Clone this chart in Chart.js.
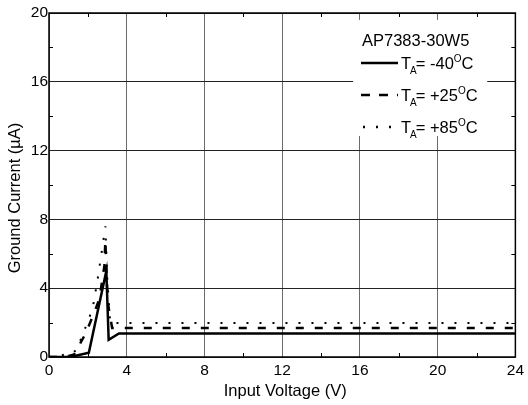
<!DOCTYPE html>
<html>
<head>
<meta charset="utf-8">
<script src="https://cdn.jsdelivr.net/npm/chart.js@4/dist/chart.umd.min.js"></script>
<style>
  html, body { margin: 0; padding: 0; background: #fff; overflow: hidden; }
  canvas { display: block; }
</style>
</head>
<body>
<canvas id="groundCurrent" width="528" height="405"></canvas>
<script>
// valores (tensão em V, corrente em uA)
const voltsMinus40 = [0, 1.1, 2.05, 2.95, 3.07, 3.6, 24];
const currMinus40  = [0, 0, 0.25, 5.0, 1.0, 1.37, 1.37];

const voltsPlus25 = [0, 0.8, 1.3, 1.9, 2.3, 2.6, 2.85, 2.9, 2.97, 3.05, 3.25, 24];
const currPlus25  = [0, 0, 0.15, 1.4, 2.5, 3.4, 5.3, 6.8, 4.5, 3.0, 1.68, 1.68];

const voltsPlus85 = [0, 0.5, 1.2, 1.45, 1.75, 2.0, 2.25, 2.5, 2.75, 2.9, 3.0, 3.15, 24];
const currPlus85  = [0, 0.08, 0.2, 0.47, 1.37, 2.05, 2.85, 4.5, 6.4, 7.6, 4.5, 1.97, 1.97];

const xTicks = [0, 4, 8, 12, 16, 20, 24];
const yTicks = [0, 4, 8, 12, 16, 20];

const seriesNames = ['-40', '+25', '+85'];
const partName = 'AP7383-30W5';

function toPoints(xs, ys) {
  return xs.map((v, i) => ({ x: v, y: ys[i] }));
}

const FONT = 'Liberation Sans, Arial, sans-serif';

// moldura, grade menor, títulos e legenda desenhados à mão
const extras = {
  id: 'extras',
  afterDraw(chart) {
    const ctx = chart.ctx;
    const a = chart.chartArea;
    const xs = chart.scales.x, ys = chart.scales.y;
    ctx.save();

    // marcas menores para dentro
    ctx.strokeStyle = '#000';
    ctx.lineWidth = 1;
    for (let v = 2; v < 24; v += 4) {
      const px = Math.round(xs.getPixelForValue(v)) + 0.5;
      ctx.beginPath();
      ctx.moveTo(px, a.bottom); ctx.lineTo(px, a.bottom - 4);
      ctx.moveTo(px, a.top); ctx.lineTo(px, a.top + 4);
      ctx.stroke();
    }
    for (let v = 2; v < 20; v += 4) {
      const py = Math.round(ys.getPixelForValue(v)) + 0.5;
      ctx.beginPath();
      ctx.moveTo(a.left, py); ctx.lineTo(a.left + 4, py);
      ctx.moveTo(a.right, py); ctx.lineTo(a.right - 4, py);
      ctx.stroke();
    }

    // caixa da legenda (fundo branco por cima da grade)
    const bx0 = xs.getPixelForValue(15.65), bx1 = xs.getPixelForValue(22.55);
    const by0 = ys.getPixelForValue(19.6), by1 = ys.getPixelForValue(12.85);
    ctx.fillStyle = '#fff';
    ctx.fillRect(bx0, by0, bx1 - bx0, by1 - by0);

    ctx.fillStyle = '#000';
    ctx.textBaseline = 'alphabetic';
    ctx.textAlign = 'left';
    ctx.font = '16.5px ' + FONT;
    ctx.fillText(partName, 362, 46);

    const rows = [63, 95, 127];
    const dashes = [[], [9, 9], [2, 11]];
    rows.forEach((ry, i) => {
      ctx.strokeStyle = '#000';
      ctx.lineWidth = 2.5;
      ctx.setLineDash(dashes[i]);
      ctx.beginPath();
      ctx.moveTo(i === 2 ? 363 : 361, ry); ctx.lineTo(398, ry);
      ctx.stroke();
      ctx.setLineDash([]);
      let tx = 401;
      ctx.font = '16.5px ' + FONT;
      ctx.fillText('T', tx, ry + 6);
      tx += ctx.measureText('T').width - 1;
      ctx.font = '10px ' + FONT;
      ctx.fillText('A', tx, ry + 11);
      tx += ctx.measureText('A').width - 1;
      ctx.font = '16.5px ' + FONT;
      const s = '= ' + seriesNames[i];
      ctx.fillText(s, tx, ry + 6);
      tx += ctx.measureText(s).width;
      ctx.font = '10px ' + FONT;
      ctx.fillText('O', tx, ry - 1);
      tx += ctx.measureText('O').width;
      ctx.font = '16.5px ' + FONT;
      ctx.fillText('C', tx, ry + 6);
    });

    // borda da área
    ctx.strokeStyle = '#000';
    ctx.lineWidth = 1.5;
    ctx.strokeRect(a.left, a.top, a.right - a.left, a.bottom - a.top);

    // títulos dos eixos
    ctx.font = '16.5px ' + FONT;
    ctx.textAlign = 'center';
    ctx.textBaseline = 'middle';
    ctx.fillText('Input Voltage (V)', (a.left + a.right) / 2 + 3, 391);
    ctx.translate(15, 198);
    ctx.rotate(-Math.PI / 2);
    ctx.fillText('Ground Current (\u00B5A)', 0, 0);
    ctx.restore();
  }
};

new Chart(document.getElementById('groundCurrent'), {
  type: 'line',
  data: {
    datasets: [
      {
        label: 'TA= -40C',
        data: toPoints(voltsMinus40, currMinus40),
        borderColor: '#000',
        borderWidth: 2.5,
        pointRadius: 0,
        tension: 0
      },
      {
        label: 'TA= +25C',
        data: toPoints(voltsPlus25, currPlus25),
        borderColor: '#000',
        borderWidth: 2.5,
        borderDash: [8, 11],
        pointRadius: 0,
        tension: 0
      },
      {
        label: 'TA= +85C',
        data: toPoints(voltsPlus85, currPlus85),
        borderColor: '#000',
        borderWidth: 2,
        borderDash: [2, 11],
        pointRadius: 0,
        tension: 0
      }
    ]
  },
  plugins: [extras],
  options: {
    responsive: false,
    animation: false,
    devicePixelRatio: 1,
    layout: { padding: { top: 13, right: 10, left: 0, bottom: 0 } },
    plugins: {
      legend: { display: false },
      tooltip: { enabled: false }
    },
    scales: {
      x: {
        type: 'linear',
        min: 0,
        max: 24,
        afterBuildTicks: (s) => { s.ticks = xTicks.map(v => ({ value: v })); },
        afterFit: (s) => { s.height = 48; },
        ticks: {
          color: '#000',
          font: { family: FONT, size: 15.5 },
          padding: 4,
          maxRotation: 0,
          autoSkip: false
        },
        grid: {
          color: '#6b6b6b',
          lineWidth: 1,
          drawTicks: false
        },
        border: { display: false }
      },
      y: {
        min: 0,
        max: 20,
        afterBuildTicks: (s) => { s.ticks = yTicks.map(v => ({ value: v })); },
        afterFit: (s) => { s.width = 49; },
        ticks: {
          color: '#000',
          font: { family: FONT, size: 15.5 },
          padding: 1,
          autoSkip: false
        },
        grid: {
          color: '#222',
          lineWidth: 1,
          drawTicks: false
        },
        border: { display: false }
      }
    }
  }
});
</script>
</body>
</html>
